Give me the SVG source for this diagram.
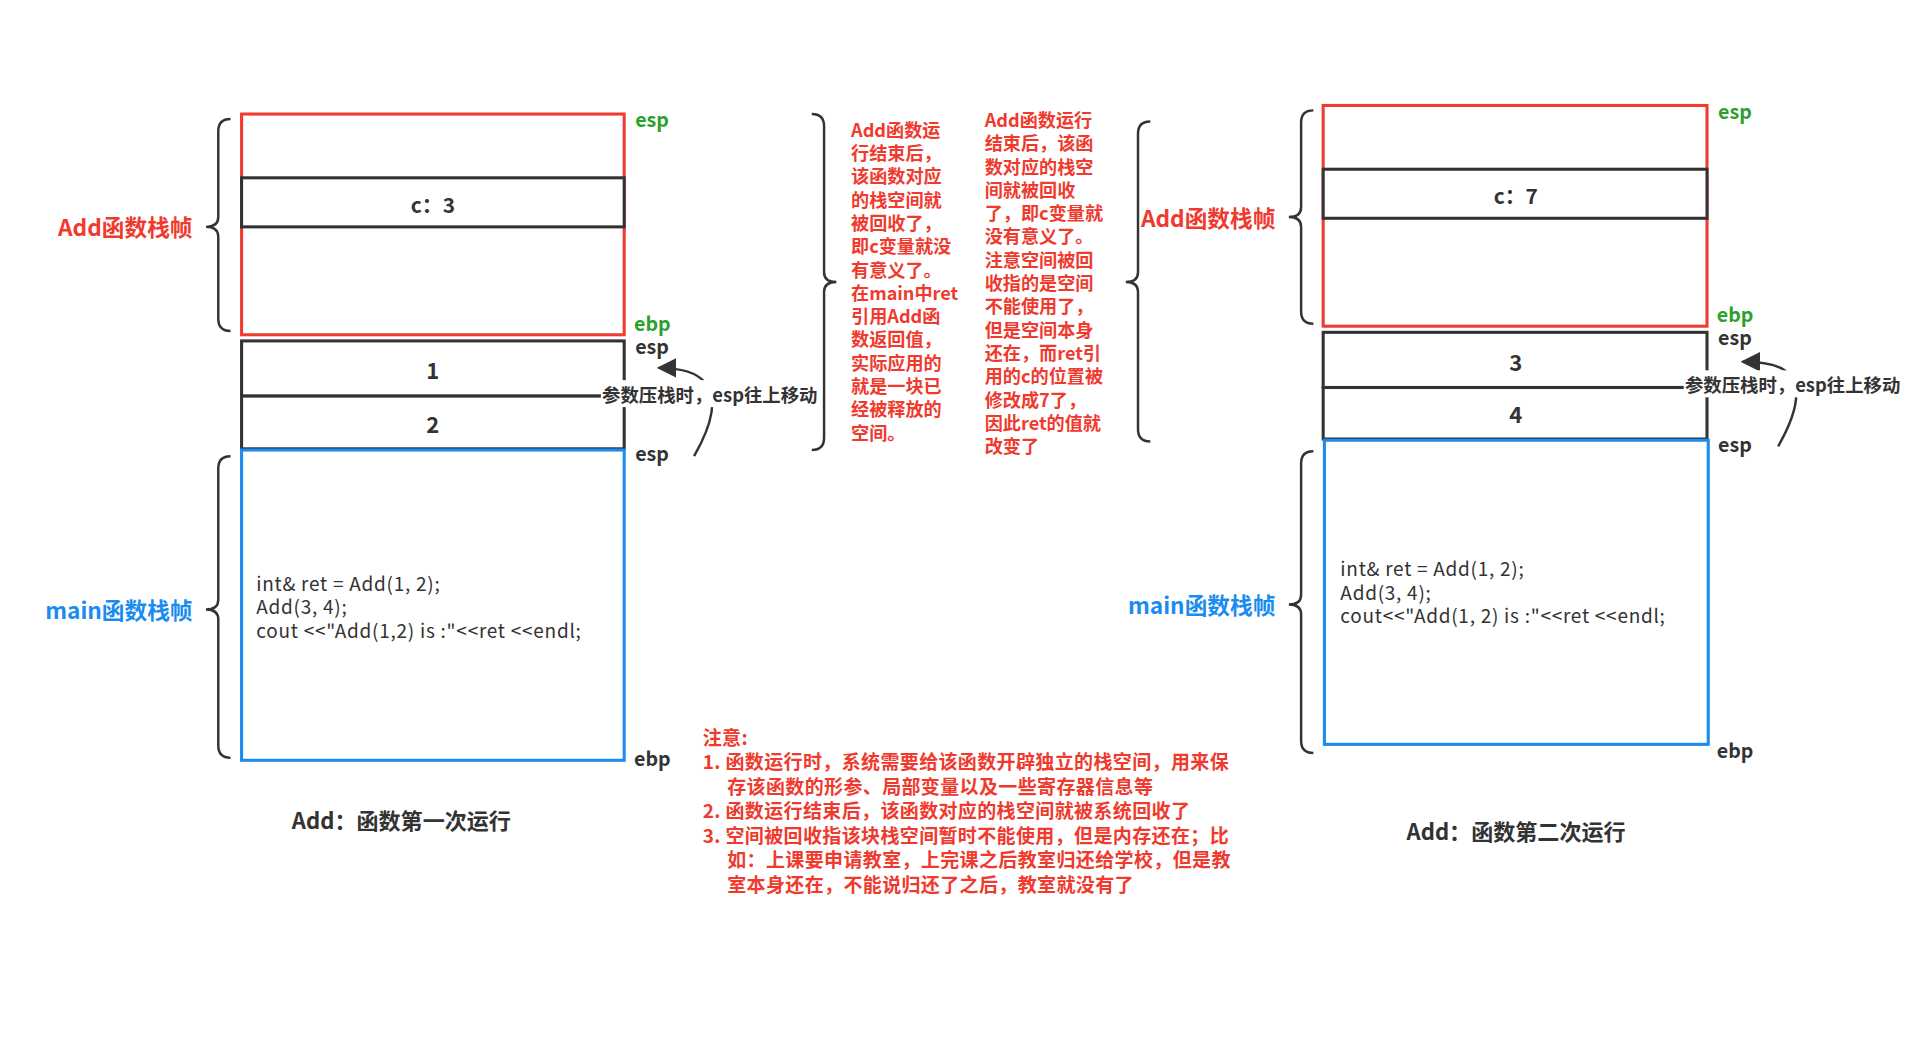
<svg xmlns="http://www.w3.org/2000/svg" width="1913" height="1046" viewBox="0 0 1913 1046">
<defs>
<style>
text{font-family:"Noto Sans CJK SC","Noto Sans",sans-serif;font-weight:bold;dominant-baseline:central}
.red{fill:#f03a2e}.blue{fill:#1a8cf0}.green{fill:#2ca02c}.dark{fill:#333}
.lbl{font-size:16px}
.side{font-size:18.5px}
.box{fill:#fff;stroke:#333;stroke-width:2.5}
.brace{fill:none;stroke:#333;stroke-width:2}
.mid{font-size:14.8px;fill:#f03a2e}
.code{font-size:15.5px;fill:#333;font-weight:normal;letter-spacing:0.6px}
</style>
<marker id="ah" viewBox="0 0 10 10" refX="9" refY="5" markerWidth="8" markerHeight="8" orient="auto"><path d="M0,0L10,5L0,10z" fill="#333"/></marker>
</defs>
<rect width="1913" height="1046" fill="#fff"/>
<g transform="scale(1.2263)">
<g id="left">
<rect x="197" y="93" width="312" height="180" fill="#fff" stroke="#f03a2e" stroke-width="2.5"/>
<rect class="box" x="197" y="145" width="312" height="40"/>
<text x="353" y="166" text-anchor="middle" class="dark" style="font-size:17px">c：3</text>
<rect class="box" x="197" y="278" width="312" height="45"/>
<text x="353" y="301" text-anchor="middle" class="dark" style="font-size:18px">1</text>
<rect class="box" x="197" y="323" width="312" height="43"/>
<text x="353" y="345" text-anchor="middle" class="dark" style="font-size:18px">2</text>
<rect x="197" y="367" width="312" height="253" fill="#fff" stroke="#1a8cf0" stroke-width="2.5"/>
<text x="209" y="475" class="code">int&amp; ret = Add(1, 2);</text>
<text x="209" y="494" class="code">Add(3, 4);</text>
<text x="209" y="513" class="code">cout &lt;&lt;"Add(1,2) is :"&lt;&lt;ret &lt;&lt;endl;</text>
<path class="brace" d="M188,97 Q178,97 178,107 L178,177 Q178,185 168,185 Q178,185 178,193 L178,260 Q178,270 188,270"/>
<path class="brace" d="M188,372 Q178,372 178,382 L178,489 Q178,497 168,497 Q178,497 178,505 L178,608 Q178,618 188,618"/>
<text x="157" y="185" text-anchor="end" class="red side">Add函数栈帧</text>
<text x="157" y="497" text-anchor="end" class="blue side">main函数栈帧</text>
<text x="518" y="97" class="green lbl">esp</text>
<text x="517" y="263" class="green lbl">ebp</text>
<text x="518" y="282" class="dark lbl">esp</text>
<text x="518" y="369" class="dark lbl">esp</text>
<text x="517" y="618" class="dark lbl">ebp</text>
<text x="238" y="668" class="dark" style="font-size:18px">Add：函数第一次运行</text>
</g>
<g id="right">
<rect x="1079" y="86" width="313" height="180" fill="#fff" stroke="#f03a2e" stroke-width="2.5"/>
<rect class="box" x="1079" y="138" width="313" height="40"/>
<text x="1236" y="159" text-anchor="middle" class="dark" style="font-size:17px">c：7</text>
<rect class="box" x="1079" y="271" width="313" height="45"/>
<text x="1236" y="294" text-anchor="middle" class="dark" style="font-size:18px">3</text>
<rect class="box" x="1079" y="316" width="313" height="42"/>
<text x="1236" y="337" text-anchor="middle" class="dark" style="font-size:18px">4</text>
<rect x="1080" y="359" width="313" height="248" fill="#fff" stroke="#1a8cf0" stroke-width="2.5"/>
<text x="1093" y="463" class="code">int&amp; ret = Add(1, 2);</text>
<text x="1093" y="482" class="code">Add(3, 4);</text>
<text x="1093" y="501" class="code">cout&lt;&lt;"Add(1, 2) is :"&lt;&lt;ret &lt;&lt;endl;</text>
<path class="brace" d="M1071,90 Q1061,90 1061,100 L1061,169 Q1061,177 1051,177 Q1061,177 1061,185 L1061,254 Q1061,264 1071,264"/>
<path class="brace" d="M1071,368 Q1061,368 1061,378 L1061,485 Q1061,493 1051,493 Q1061,493 1061,501 L1061,604 Q1061,614 1071,614"/>
<text x="1040" y="177" text-anchor="end" class="red side">Add函数栈帧</text>
<text x="1040" y="493" text-anchor="end" class="blue side">main函数栈帧</text>
<text x="1401" y="90" class="green lbl">esp</text>
<text x="1400" y="256" class="green lbl">ebp</text>
<text x="1401" y="274" class="dark lbl">esp</text>
<text x="1401" y="362" class="dark lbl">esp</text>
<text x="1400" y="611" class="dark lbl">ebp</text>
<text x="1147" y="677" class="dark" style="font-size:18px">Add：函数第二次运行</text>
</g>
<g id="connectors" fill="none" stroke="#333" stroke-width="2">
<path d="M566,372 Q590,330 575,312 Q565,300 537,300" marker-end="url(#ah)"/>
<path d="M1450,364 Q1474,322 1459,305 Q1450,295 1421,295" marker-end="url(#ah)"/>
</g>
<g id="labels">
<rect x="490" y="310" width="183" height="22" fill="#fff"/>
<text x="491" y="321" class="dark" style="font-size:15px">参数压栈时，esp往上移动</text>
<rect x="1373" y="302" width="184" height="22" fill="#fff"/>
<text x="1374" y="313" class="dark" style="font-size:15px">参数压栈时，esp往上移动</text>
</g>
<g id="midnotes">
<path class="brace" d="M662,93 Q672,93 672,103 L672,222 Q672,230 682,230 Q672,230 672,238 L672,357 Q672,367 662,367"/>
<path class="brace" d="M938,99 Q928,99 928,109 L928,222 Q928,230 918,230 Q928,230 928,238 L928,350 Q928,360 938,360"/>
<text class="mid"><tspan x="694" y="105">Add函数运</tspan><tspan x="694" y="124">行结束后，</tspan><tspan x="694" y="143">该函数对应</tspan><tspan x="694" y="162">的栈空间就</tspan><tspan x="694" y="181">被回收了，</tspan><tspan x="694" y="200">即c变量就没</tspan><tspan x="694" y="219">有意义了。</tspan><tspan x="694" y="238">在main中ret</tspan><tspan x="694" y="257">引用Add函</tspan><tspan x="694" y="276">数返回值，</tspan><tspan x="694" y="295">实际应用的</tspan><tspan x="694" y="314">就是一块已</tspan><tspan x="694" y="333">经被释放的</tspan><tspan x="694" y="352">空间。</tspan></text>
<text class="mid"><tspan x="803" y="97">Add函数运行</tspan><tspan x="803" y="116">结束后，该函</tspan><tspan x="803" y="135">数对应的栈空</tspan><tspan x="803" y="154">间就被回收</tspan><tspan x="803" y="173">了，即c变量就</tspan><tspan x="803" y="192">没有意义了。</tspan><tspan x="803" y="211">注意空间被回</tspan><tspan x="803" y="230">收指的是空间</tspan><tspan x="803" y="249">不能使用了，</tspan><tspan x="803" y="268">但是空间本身</tspan><tspan x="803" y="287">还在，而ret引</tspan><tspan x="803" y="306">用的c的位置被</tspan><tspan x="803" y="325">修改成7了，</tspan><tspan x="803" y="344">因此ret的值就</tspan><tspan x="803" y="363">改变了</tspan></text>
</g>
<g id="notes">
<text class="red" style="font-size:15.5px;letter-spacing:0.3px"><tspan x="573" y="600">注意:</tspan><tspan x="573" y="620">1. 函数运行时，系统需要给该函数开辟独立的栈空间，用来保</tspan><tspan x="593" y="640">存该函数的形参、局部变量以及一些寄存器信息等</tspan><tspan x="573" y="660">2. 函数运行结束后，该函数对应的栈空间就被系统回收了</tspan><tspan x="573" y="680">3. 空间被回收指该块栈空间暂时不能使用，但是内存还在；比</tspan><tspan x="593" y="700">如：上课要申请教室，上完课之后教室归还给学校，但是教</tspan><tspan x="593" y="720">室本身还在，不能说归还了之后，教室就没有了</tspan></text>
</g>
</g>
</svg>
